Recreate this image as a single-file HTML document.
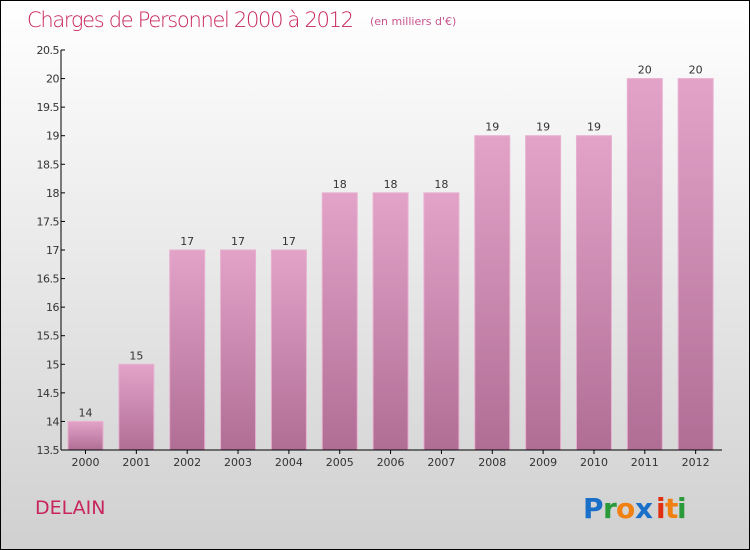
<!DOCTYPE html>
<html><head><meta charset="utf-8"><style>
body{margin:0}
#c{position:relative;width:748px;height:548px;border:1px solid #000;background:linear-gradient(#fff,#d0d0d0);font-family:"DejaVu Sans","Liberation Sans",sans-serif;overflow:hidden}
</style></head><body>
<div id="c">
<svg id="s" width="748" height="548">
<defs><linearGradient id="bg" x1="0" y1="0" x2="0" y2="1"><stop offset="0" stop-color="#e3a3c9"/><stop offset="1" stop-color="#b06e95"/></linearGradient></defs>
<text x="26" y="26" font-size="21" fill="#c8255e" style="font-family:'DejaVu Sans',sans-serif;font-weight:200" textLength="327">Charges de Personnel 2000 à 2012</text>
<text x="369" y="24" font-size="11" fill="#c8558e">(en milliers d'€)</text>
<text x="34" y="513" font-size="19" fill="#c8255e">DELAIN</text>
<g font-size="28" font-weight="bold">
<text x="582" y="517" fill="#1a6fc9">P</text><text x="602" y="517" fill="#2a9a3a">r</text><text x="615" y="517" fill="#f08010">o</text><text x="634" y="517" fill="#1a6fc9">x</text><text x="655" y="517" fill="#e03010">i</text><text x="664" y="517" fill="#f08010">t</text><text x="676" y="517" fill="#2a9a3a">i</text>
</g>
<g id="plot"></g>
</svg>
</div>
<script>
const years=["2000","2001","2002","2003","2004","2005","2006","2007","2008","2009","2010","2011","2012"];
const values=[14,15,17,17,17,18,18,18,19,19,19,20,20];
const yTicks=[13.5,14,14.5,15,15.5,16,16.5,17,17.5,18,18.5,19,19.5,20,20.5];
const x0=60,x1=721,yMin=13.5,yMax=20.5,yTop=49,yBot=449;
const bw=(x1-x0)/years.length;
const y=v=>yBot-(v-yMin)/(yMax-yMin)*(yBot-yTop);
const xs=i=>x0+i*bw;
const g=document.getElementById('plot');
const ns='http://www.w3.org/2000/svg';
function mk(t,a){const e=document.createElementNS(ns,t);for(const k in a)e.setAttribute(k,a[k]);g.appendChild(e);return e;}
values.forEach((v,i)=>{
 const r=mk('rect',{x:xs(i)+7,y:y(v),width:35,height:yBot-y(v),fill:'url(#bg)',stroke:'#e8b0d0','stroke-width':1});
 
 
 const t=mk('text',{x:xs(i)+24.5,y:y(v)-5,'text-anchor':'middle','font-size':11,fill:'#333'});
 t.textContent=v;
 
 
 const l=mk('text',{x:xs(i)+24.5,y:465,'text-anchor':'middle','font-size':11,fill:'#333'});
 l.textContent=years[i];
 
 
 const tk=mk('line',{x1:xs(i)+24.5,x2:xs(i)+24.5,y1:yBot,y2:yBot+4,stroke:'#000'});
 
 
});
yTicks.forEach(v=>{
 const tk=mk('line',{x1:x0,x2:x0+4,y1:y(v),y2:y(v),stroke:'#000'});
 
 
 const t=mk('text',{x:x0-2,y:y(v)+4,'text-anchor':'end','font-size':11,fill:'#333','letter-spacing':'-0.5'});
 t.textContent=v;
 
 
});
const ya=mk('line',{x1:x0,x2:x0,y1:yTop,y2:yBot,stroke:'#000'});


const xa=mk('line',{x1:x0,x2:x1,y1:yBot,y2:yBot,stroke:'#000'});


</script>
</body></html>
